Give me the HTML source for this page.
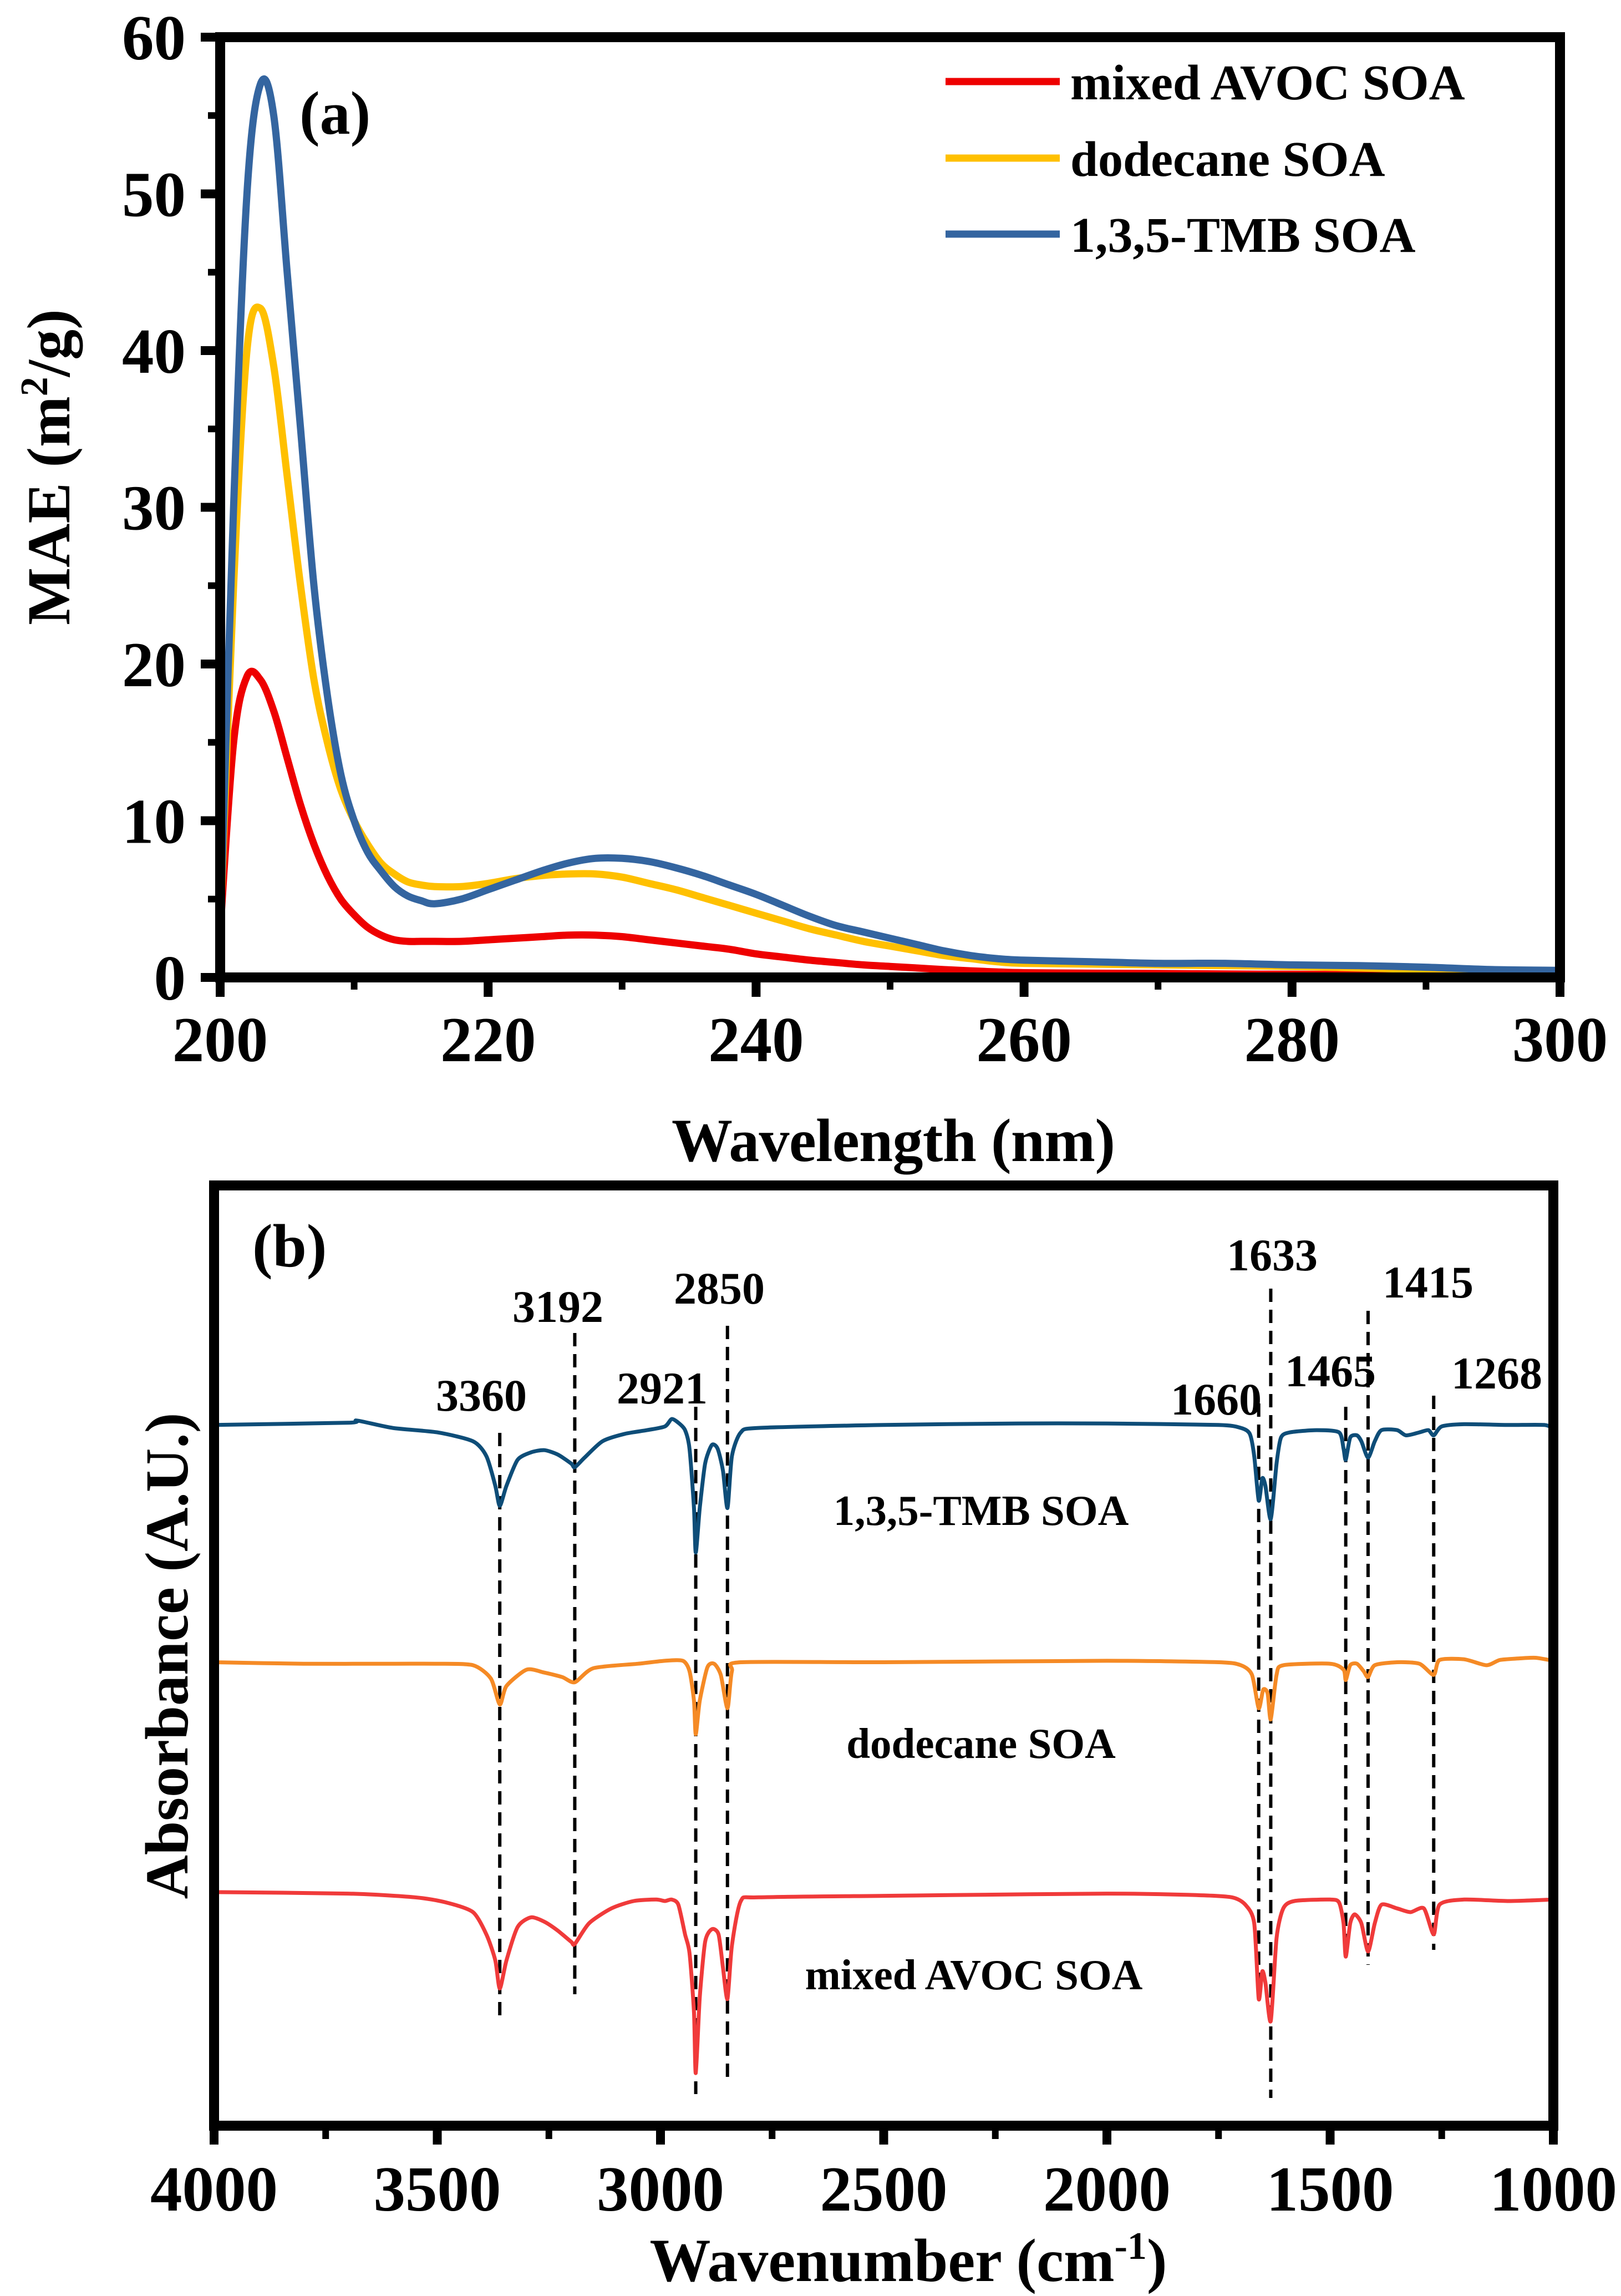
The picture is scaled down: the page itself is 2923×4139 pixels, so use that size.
<!DOCTYPE html>
<html><head><meta charset="utf-8"><style>
html,body{margin:0;padding:0;background:#fff;}
svg{display:block;font-family:"Liberation Serif",serif;font-weight:bold;}
</style></head><body>
<svg id="fig" width="2923" height="4139" viewBox="0 0 2923 4139" xmlns="http://www.w3.org/2000/svg">
<g id="pa"></g>
<g id="pb"></g>
</svg>
<script>
// ---------- Panel (a) data ----------
const aXTicks = [200,220,240,260,280,300];
const aYTicks = [0,10,20,30,40,50,60];
const aSeriesNames = ["mixed AVOC SOA","dodecane SOA","1,3,5-TMB SOA"];
const aWave = [200,201,202,203,204,205,206,207,208,209,210,211,212,213,214,215,216,218,220,222,224,226,228,230,232,234,236,238,240,242,244,246,248,250,252,254,256,258,260,265,270,275,280,285,290,295,300];
const aRed = [3,15,19.2,19,17,14,11,8.5,6.5,5,4,3.2,2.7,2.4,2.3,2.3,2.3,2.3,2.4,2.5,2.6,2.7,2.7,2.6,2.4,2.2,2.0,1.8,1.5,1.3,1.1,0.95,0.8,0.7,0.6,0.5,0.42,0.35,0.3,0.27,0.25,0.22,0.2,0.18,0.15,0.12,0.1];
const aYellow = [3,25,40,42.7,39,32,25,19,15,12,10,8.5,7.3,6.6,6.1,5.9,5.8,5.8,6.0,6.3,6.5,6.6,6.6,6.4,6.0,5.6,5.1,4.6,4.1,3.6,3.1,2.7,2.3,2.0,1.7,1.4,1.2,1.0,0.9,0.85,0.8,0.75,0.7,0.6,0.5,0.42,0.35];
const aBlue = [3,30,50,57,55,45,35,25,18,13,10,8,6.8,5.8,5.2,4.9,4.7,5.0,5.6,6.2,6.8,7.3,7.6,7.6,7.4,7.0,6.5,5.9,5.3,4.6,3.9,3.3,2.9,2.5,2.1,1.7,1.4,1.2,1.1,1.0,0.9,0.9,0.8,0.75,0.65,0.5,0.45];

// ---------- Panel (b) data ----------
const bXTicks = [4000,3500,3000,2500,2000,1500,1000];
const bPeaks = [3360,3192,2921,2850,1660,1633,1465,1415,1268];
const bTMBwn = [4000,3700,3680,3600,3500,3420,3390,3370,3360,3345,3320,3290,3260,3230,3200,3192,3170,3130,3080,3030,2990,2975,2960,2945,2935,2925,2921,2912,2900,2885,2872,2860,2850,2840,2820,2780,2500,2200,2000,1750,1700,1680,1670,1660,1652,1645,1633,1620,1610,1590,1530,1480,1470,1465,1455,1440,1430,1415,1400,1385,1350,1330,1300,1280,1268,1250,1200,1100,1020,1000];
const bTMB = [945,948,951,941,935,923,903,863,836,863,898,908,911,905,893,888,901,923,933,938,943,953,948,938,913,833,773,833,893,918,913,883,833,903,935,941,945,947,947,945,941,933,903,843,873,863,818,893,928,935,938,935,913,898,928,931,923,901,923,938,938,931,935,938,931,943,946,945,945,940];
const bDodWn = [4000,3800,3600,3500,3420,3380,3360,3345,3300,3260,3220,3192,3150,3050,2990,2950,2935,2925,2921,2912,2895,2880,2865,2850,2840,2820,2500,2000,1750,1700,1675,1660,1650,1640,1633,1620,1605,1500,1470,1465,1455,1440,1425,1415,1400,1350,1300,1268,1255,1200,1150,1120,1080,1040,1000];
const bDod = [625,623,623,623,621,603,568,593,615,611,605,598,617,623,627,627,613,573,528,573,618,623,608,563,613,625,625,627,625,621,608,563,588,583,548,608,621,623,615,601,621,623,613,605,621,625,623,608,628,629,621,628,630,631,627];
const bMixWn = [4000,3700,3550,3480,3420,3390,3370,3360,3345,3320,3290,3260,3230,3200,3192,3160,3110,3060,3010,2990,2975,2960,2945,2935,2925,2921,2912,2900,2885,2870,2860,2850,2840,2820,2780,2500,2350,2000,1800,1720,1690,1670,1660,1652,1645,1633,1620,1605,1580,1500,1480,1470,1465,1455,1445,1430,1415,1400,1385,1350,1320,1290,1268,1255,1200,1100,1000];
const bMix = [315,313,308,301,288,258,223,185,223,268,281,275,263,248,245,273,293,303,305,303,305,298,258,233,153,71,173,248,265,258,213,171,243,303,308,310,311,313,311,308,298,273,171,208,193,141,253,293,303,305,301,273,228,273,285,273,235,273,298,293,288,293,258,298,305,303,305];
const bLabels = ["1,3,5-TMB SOA","dodecane SOA","mixed AVOC SOA"];

const NS="http://www.w3.org/2000/svg";
function mk(parent,tag,attrs,text){const e=document.createElementNS(NS,tag);for(const k in attrs)e.setAttribute(k,attrs[k]);if(text!==undefined)e.textContent=text;parent.appendChild(e);return e;}
function smoothPath(P,t){
  let d='M'+P[0][0].toFixed(1)+','+P[0][1].toFixed(1);
  for(let i=0;i<P.length-1;i++){
    const p0=P[Math.max(0,i-1)],p1=P[i],p2=P[i+1],p3=P[Math.min(P.length-1,i+2)];
    const c1x=p1[0]+(p2[0]-p0[0])*t,c1y=p1[1]+(p2[1]-p0[1])*t;
    const c2x=p2[0]-(p3[0]-p1[0])*t,c2y=p2[1]-(p3[1]-p1[1])*t;
    d+=' C'+c1x.toFixed(1)+','+c1y.toFixed(1)+' '+c2x.toFixed(1)+','+c2y.toFixed(1)+' '+p2[0].toFixed(1)+','+p2[1].toFixed(1);
  }
  return d;
}

// ---------- Panel (a) ----------
const pa=document.getElementById('pa');
const aL=397,aR=2813,aT=67,aB=1762;
const ax=w=>aL+(w-200)/100*(aR-aL);
const ay=v=>aB-v/60*(aB-aT);
for(let i=0;i<aXTicks.length;i++){
  const t=aXTicks[i];
  const tk=mk(pa,'line',{x1:ax(t),x2:ax(t),y1:aB,y2:aB+35,stroke:'#000','stroke-width':16});
  
  
  const lb=mk(pa,'text',{x:ax(t),y:1913,'font-size':115,'text-anchor':'middle'},String(t));
  
  
  if(i<aXTicks.length-1){
    const m=mk(pa,'line',{x1:ax(t+10),x2:ax(t+10),y1:aB,y2:aB+22,stroke:'#000','stroke-width':12});
    
    
  }
}
for(let i=0;i<aYTicks.length;i++){
  const t=aYTicks[i];
  const tk=mk(pa,'line',{x1:aL-35,x2:aL,y1:ay(t),y2:ay(t),stroke:'#000','stroke-width':16});
  
  
  const lb=mk(pa,'text',{x:335,y:ay(t)+40,'font-size':115,'text-anchor':'end'},String(t));
  
  
  if(i<aYTicks.length-1){
    const m=mk(pa,'line',{x1:aL-22,x2:aL,y1:ay(t+5),y2:ay(t+5),stroke:'#000','stroke-width':12});
    
    
  }
}
const aSeries=[[aRed,'#ee0000'],[aYellow,'#ffc000'],[aBlue,'#3465a0']];
const aSeriesKeys=['series-mixed-avoc','series-dodecane','series-tmb'];
for(let s=0;s<3;s++){
  const vals=aSeries[s][0];
  const P=aWave.map((w,i)=>[ax(w),ay(vals[i])]);
  const pl=mk(pa,'path',{d:smoothPath(P,0.17),fill:'none',stroke:aSeries[s][1],'stroke-width':13,'stroke-linejoin':'round'});
  
  
}
const fa=mk(pa,'rect',{x:aL,y:aT,width:aR-aL,height:aB-aT,fill:'none',stroke:'#000','stroke-width':18});


const legY=[147,285,422];
for(let s=0;s<3;s++){
  const g=mk(pa,'g',{});
  
  
  const ln=mk(g,'line',{x1:1705,x2:1911,y1:legY[s],y2:legY[s],stroke:aSeries[s][1],'stroke-width':13});
  
  
  const tx=mk(g,'text',{x:1930,y:legY[s]+32,'font-size':90},aSeriesNames[s]);
  
  
}
const la=mk(pa,'text',{x:540,y:241,'font-size':110},'(a)');


const xta=mk(pa,'text',{x:1611,y:2093,'font-size':110,'text-anchor':'middle',textLength:800},'Wavelength (nm)');


const yta=mk(pa,'text',{x:0,y:0,'font-size':110,'text-anchor':'middle',transform:'translate(125,842) rotate(-90)'});


mk(yta,'tspan',{},'MAE (m');
mk(yta,'tspan',{'font-size':70,dy:-40},'2');
mk(yta,'tspan',{dy:40},'/g)');

// ---------- Panel (b) ----------
const pb=document.getElementById('pb');
const bL=386,bR=2801,bT=2137,bB=3832;
const bx=w=>bL+(4000-w)/3000*(bR-bL);
const by=v=>bB-v/1268*(bB-bT);
for(let i=0;i<bXTicks.length;i++){
  const t=bXTicks[i];
  const tk=mk(pb,'line',{x1:bx(t),x2:bx(t),y1:bB,y2:3866,stroke:'#000','stroke-width':16});
  
  
  const lb=mk(pb,'text',{x:bx(t),y:3985,'font-size':115,'text-anchor':'middle'},String(t));
  
  
  if(i<bXTicks.length-1){
    const m=mk(pb,'line',{x1:bx(t-250),x2:bx(t-250),y1:bB,y2:3856,stroke:'#000','stroke-width':12});
    
    
  }
}
const dashTop=[2583,2403,2536,2390,2530,2323,2536,2363,2516];
const dashBot=[3642,3595,3775,3748,3602,3782,3529,3542,3515];
const lblPos=[[868,2543],[1006,2383],[1194,2530],[1297,2350],[2193,2550],[2294,2290],[2399,2499],[2575,2339],[2699,2503]];
for(let i=0;i<bPeaks.length;i++){
  const d=mk(pb,'line',{x1:bx(bPeaks[i]),x2:bx(bPeaks[i]),y1:dashTop[i],y2:dashBot[i],stroke:'#000','stroke-width':6,'stroke-dasharray':'24 14'});
  
  
  const t=mk(pb,'text',{x:lblPos[i][0],y:lblPos[i][1],'font-size':82,'text-anchor':'middle'},String(bPeaks[i]));
  
  
}
const bSeries=[[bTMBwn,bTMB,'#0e4d78','spectrum-tmb'],[bDodWn,bDod,'#f58a25','spectrum-dodecane'],[bMixWn,bMix,'#f03a3a','spectrum-mixed-avoc']];
for(const [wn,v,c,nm] of bSeries){
  const P=wn.map((w,i)=>[bx(w),by(v[i])]);
  const pl=mk(pb,'path',{d:smoothPath(P,0.12),fill:'none',stroke:c,'stroke-width':7,'stroke-linejoin':'round'});
  
  
}
const sLblPos=[[1769,2749],[1769,3169],[1756,3586]];
for(let i=0;i<3;i++){
  const t=mk(pb,'text',{x:sLblPos[i][0],y:sLblPos[i][1],'font-size':77,'text-anchor':'middle'},bLabels[i]);
  
  
}
const fb=mk(pb,'rect',{x:bL,y:bT,width:bR-bL,height:bB-bT,fill:'none',stroke:'#000','stroke-width':18});


const lbb=mk(pb,'text',{x:455,y:2283,'font-size':110},'(b)');


const xtb=mk(pb,'text',{x:1638,y:4112,'font-size':110,'text-anchor':'middle'});


mk(xtb,'tspan',{},'Wavenumber (cm');
mk(xtb,'tspan',{'font-size':70,dy:-40},'-1');
mk(xtb,'tspan',{dy:40},')');
const ytb=mk(pb,'text',{x:0,y:0,'font-size':110,'text-anchor':'middle',transform:'translate(338,2985) rotate(-90)'},'Absorbance (A.U.)');


</script>
</body></html>
